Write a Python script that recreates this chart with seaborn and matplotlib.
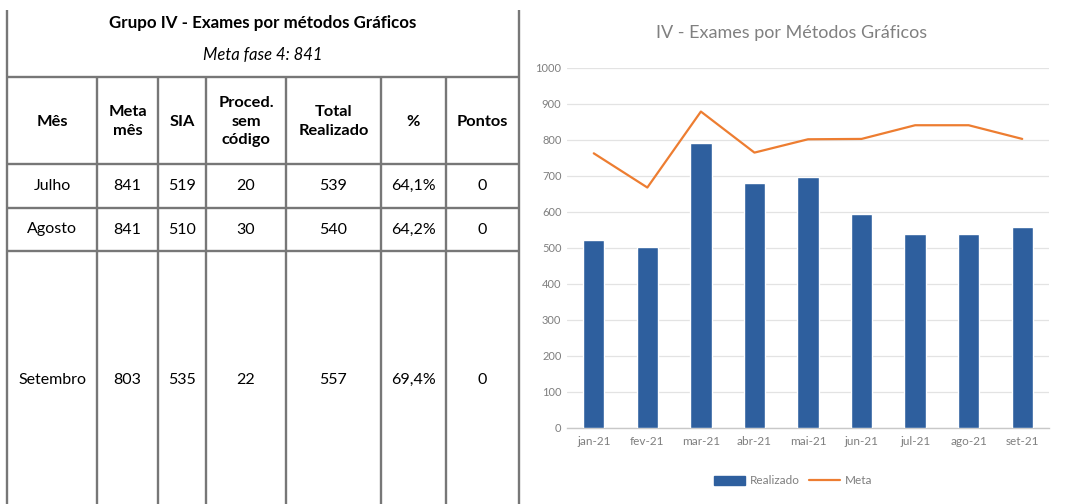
import matplotlib
matplotlib.use("Agg")
import matplotlib.pyplot as plt
import seaborn as sns
import numpy as np
import pandas as pd
from matplotlib.patches import Patch
from matplotlib.lines import Line2D

# ---------------- data ----------------
table_title = "Grupo IV - Exames por métodos Gráficos"
table_subtitle = "Meta fase 4: 841"
table_headers = ["Mês", "Meta\nmês", "SIA", "Proced.\nsem\ncódigo", "Total\nRealizado", "%", "Pontos"]
row_mes = ["Julho", "Agosto", "Setembro"]
row_meta_mes = ["841", "841", "803"]
row_sia = ["519", "510", "535"]
row_proced = ["20", "30", "22"]
row_total = ["539", "540", "557"]
row_pct = ["64,1%", "64,2%", "69,4%"]
row_pontos = ["0", "0", "0"]

chart_title = "IV - Exames por Métodos Gráficos"
months = ["jan-21", "fev-21", "mar-21", "abr-21", "mai-21", "jun-21", "jul-21", "ago-21", "set-21"]
realizado = [522, 502, 791, 681, 698, 594, 539, 540, 557]
meta = [763, 668, 879, 765, 802, 803, 841, 841, 803]

# ---------------- style ----------------
sns.set_style("white")
plt.rcParams["font.family"] = ["Lato", "DejaVu Sans"]

W, H = 1071, 504
fig = plt.figure(figsize=(W / 100, H / 100), dpi=100)

# ---------------- table (pixel coordinates) ----------------
tax = fig.add_axes([0, 0, 1, 1])
tax.set_xlim(0, W)
tax.set_ylim(H, 0)
tax.axis("off")

col_x = [7, 97, 158, 206, 286, 381, 446, 519]
row_y = [77, 164, 208, 251, 520]
line_kw = dict(color="#777777", lw=1.7, solid_capstyle="butt")

for x in (col_x[0], col_x[-1]):
    tax.plot([x, x], [10, H], **line_kw)
for x in col_x[1:-1]:
    tax.plot([x, x], [row_y[0], H], **line_kw)
for y in row_y[:-1]:
    tax.plot([col_x[0], col_x[-1]], [y, y], **line_kw)

cx_mid = (col_x[0] + col_x[-1]) / 2
tax.text(cx_mid, 23, table_title, ha="center", va="center", fontsize=12.2,
         fontweight="bold", color="black")
tax.text(cx_mid, 55, table_subtitle, ha="center", va="center", fontsize=12,
         style="italic", color="black")

for i, h in enumerate(table_headers):
    xc = (col_x[i] + col_x[i + 1]) / 2
    tax.text(xc, (row_y[0] + row_y[1]) / 2 + 1, h, ha="center", va="center",
             fontsize=11.8, fontweight="bold", linespacing=1.45, color="black")

columns = [row_mes, row_meta_mes, row_sia, row_proced, row_total, row_pct, row_pontos]
row_centers = [(row_y[1] + row_y[2]) / 2, (row_y[2] + row_y[3]) / 2, 380]
for j, col in enumerate(columns):
    xc = (col_x[j] + col_x[j + 1]) / 2
    for r, val in enumerate(col):
        tax.text(xc, row_centers[r], val, ha="center", va="center",
                 fontsize=11.5, color="black")

# ---------------- chart ----------------
left, right, top, bottom = 567, 1049, 68, 428
ax = fig.add_axes([left / W, 1 - bottom / H, (right - left) / W, (bottom - top) / H])

bar_color = "#2e5f9e"
line_color = "#ed7d31"
df = pd.DataFrame({"mes": months, "Realizado": realizado, "Meta": meta})

sns.barplot(data=df, x="mes", y="Realizado", color=bar_color, width=0.4,
            saturation=1, ax=ax, zorder=3)
sns.lineplot(x=np.arange(len(months)), y=df["Meta"], color=line_color,
             lw=1.6, ax=ax, zorder=4)

ax.set_xlim(-0.5, len(months) - 0.5)
ax.set_ylim(0, 1000)
ax.set_yticks(np.arange(0, 1001, 100))
ax.set_xlabel("")
ax.set_ylabel("")
ax.grid(axis="y", color="#e3e3e3", lw=0.9, zorder=0)
ax.grid(axis="x", visible=False)
for s in ("left", "right", "top"):
    ax.spines[s].set_visible(False)
ax.spines["bottom"].set_color("#c8c8c8")
ax.spines["bottom"].set_linewidth(1.0)
ax.tick_params(axis="y", length=0, labelsize=8, labelcolor="#7f7f7f", pad=4)
ax.tick_params(axis="x", length=0, labelsize=8.5, labelcolor="#7f7f7f", pad=6)
ax.set_xticks(np.arange(-0.5, len(months), 1.0), minor=True)
ax.tick_params(axis="x", which="minor", length=5, color="#d0d0d0", direction="out")

fig.text(792 / W, 1 - 33 / H, chart_title, ha="center",
         va="center", fontsize=13, color="#808080")

handles = [Patch(facecolor=bar_color, edgecolor=bar_color, label="Realizado"),
           Line2D([0], [0], color=line_color, lw=1.6, label="Meta")]
fig.legend(handles=handles, loc="center", bbox_to_anchor=(793 / W, 1 - 481 / H),
           ncol=2, frameon=False, fontsize=8.5, labelcolor="#7f7f7f",
           handlelength=2.6, handleheight=0.8, columnspacing=0.8, handletextpad=0.4)

fig.savefig("out.png", dpi=100)
